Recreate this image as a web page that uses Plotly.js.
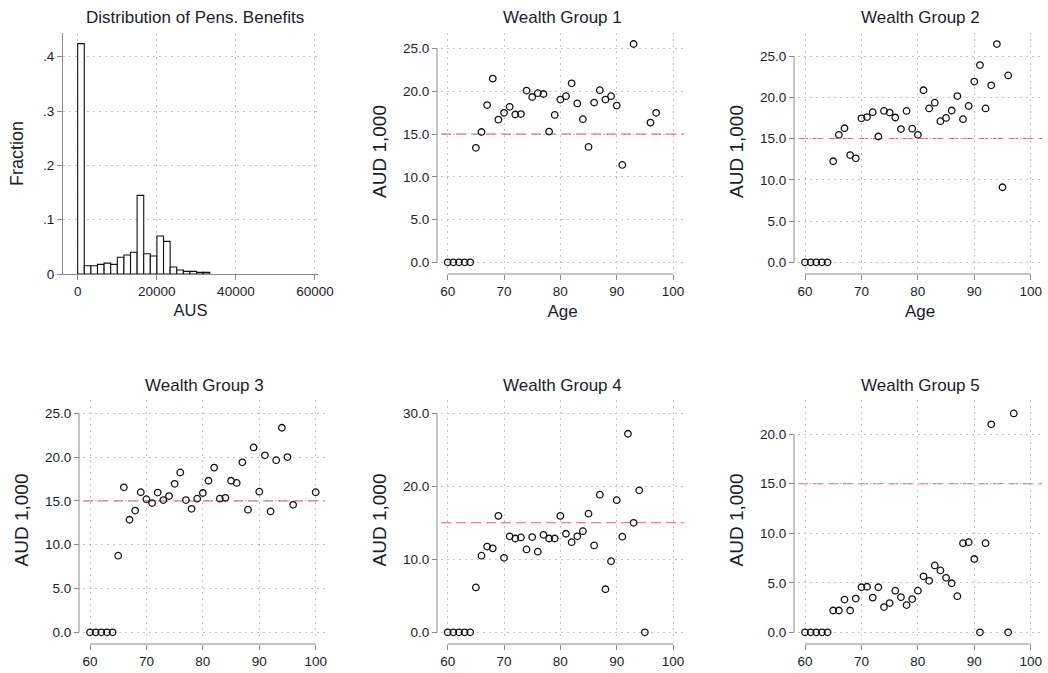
<!DOCTYPE html>
<html>
<head>
<meta charset="utf-8">
<script src="https://cdn.plot.ly/plotly-3.0.1.min.js"></script>
<style>html,body{margin:0;padding:0;background:#fff;}#chart{width:1048px;height:673px;}</style>
</head>
<body>
<div id="chart"></div>
<script>
// ---------- DATA ----------
const histBinLeft = [0,1670,3340,5010,6680,8350,10020,11690,13360,15030,16700,18370,20040,21710,23380,25050,26720,28390,30060,31730];
const histBinWidth = 1670;
const histFraction = [0.424,0.0153,0.0153,0.0178,0.020,0.0178,0.0307,0.035,0.040,0.1448,0.0374,0.0331,0.070,0.060,0.0129,0.0074,0.0049,0.0049,0.003,0.003];
const histXTicks = [0,20000,40000,60000];
const histXTickText = ['0','20000','40000','60000'];
const histYTicks = [0,0.1,0.2,0.3,0.4];
const histYTickText = ['0','.1','.2','.3','.4'];

const ageTicks = [60,70,80,90,100];

const wg1Age = [60,61,62,63,64,65,66,67,68,69,70,71,72,73,74,75,76,77,78,79,80,81,82,83,84,85,86,87,88,89,90,91,93,96,97];
const wg1Val = [0,0,0,0,0,13.4,15.25,18.4,21.5,16.7,17.5,18.2,17.3,17.35,20.1,19.35,19.8,19.7,15.3,17.25,19.05,19.45,20.95,18.6,16.75,13.5,18.7,20.15,19.05,19.45,18.35,11.4,25.55,16.35,17.5];

const wg2Age = [60,61,62,63,64,65,66,67,68,69,70,71,72,73,74,75,76,77,78,79,80,81,82,83,84,85,86,87,88,89,90,91,92,93,94,95,96];
const wg2Val = [0,0,0,0,0,12.25,15.45,16.25,13.0,12.6,17.45,17.6,18.2,15.25,18.35,18.15,17.55,16.15,18.35,16.2,15.45,20.85,18.65,19.35,17.1,17.5,18.4,20.15,17.35,18.95,21.9,23.9,18.65,21.45,26.45,9.1,22.65];

const wg3Age = [60,61,62,63,64,65,66,67,68,69,70,71,72,73,74,75,76,77,78,79,80,81,82,83,84,85,86,87,88,89,90,91,92,93,94,95,96,100];
const wg3Val = [0,0,0,0,0,8.75,16.55,12.85,13.9,16.0,15.2,14.75,15.95,15.1,15.55,16.95,18.25,15.1,14.1,15.25,15.9,17.3,18.8,15.25,15.35,17.3,17.05,19.4,14.0,21.1,16.05,20.2,13.8,19.65,23.35,20.0,14.55,16.0];

const wg4Age = [60,61,62,63,64,65,66,67,68,69,70,71,72,73,74,75,76,77,78,79,80,81,82,83,84,85,86,87,88,89,90,91,92,93,94,95];
const wg4Val = [0,0,0,0,0,6.15,10.5,11.75,11.5,15.95,10.2,13.15,12.85,13.0,11.35,13.05,11.05,13.35,12.85,12.85,15.95,13.5,12.35,13.15,13.85,16.25,11.9,18.85,5.9,9.75,18.1,13.1,27.2,15.0,19.45,0];

const wg5Age = [60,61,62,63,64,65,66,67,68,69,70,71,72,73,74,75,76,77,78,79,80,81,82,83,84,85,86,87,88,89,90,91,92,93,96,97];
const wg5Val = [0,0,0,0,0,2.2,2.2,3.3,2.2,3.4,4.55,4.6,3.5,4.55,2.55,2.95,4.2,3.55,2.75,3.35,4.2,5.65,5.2,6.75,6.25,5.5,4.95,3.65,9.0,9.1,7.4,0,9.0,21.0,0,22.1];

const groupTitles = ['Wealth Group 1','Wealth Group 2','Wealth Group 3','Wealth Group 4','Wealth Group 5'];
const groupAges = [wg1Age,wg2Age,wg3Age,wg4Age,wg5Age];
const groupVals = [wg1Val,wg2Val,wg3Val,wg4Val,wg5Val];
const groupYTicks = [[0,5,10,15,20,25],[0,5,10,15,20,25],[0,5,10,15,20,25],[0,10,20,30],[0,5,10,15,20]];
const referenceLevel = 15;

// ---------- LAYOUT GEOMETRY (pixels) ----------
const W = 1048, H = 673;
const px = v => v / W;
const py = v => 1 - v / H;

// panel boxes: [left, right, top, bottom], axis line positions
const panels = [
  {box:[441,684,33,270], xline:274, yline:437, xr:[58.81,101.95], yr:[-0.90,26.84], ytitleX:378},
  {box:[798,1042,33,270], xline:274, yline:794, xr:[58.76,102.0], yr:[-0.93,27.79], ytitleX:735},
  {box:[83,325,400,640], xline:644, yline:79, xr:[58.76,101.65], yr:[-0.88,26.52], ytitleX:20},
  {box:[441,684,400,640], xline:644, yline:437, xr:[58.81,101.95], yr:[-1.05,31.82], ytitleX:378},
  {box:[798,1042,400,640], xline:644, yline:794, xr:[58.76,102.0], yr:[-0.78,23.46], ytitleX:735}
];

const FONT = '"Liberation Sans", Arial, sans-serif';
const TXT = '#1c1c2a';
const AXC = '#8a8a8a';
const GRID = '#c4c4c4';
const tickFont = {family: FONT, size: 13.5, color: TXT};

const data = [];
const layout = {
  width: W, height: H,
  margin: {l:0, r:0, t:0, b:0, pad:0},
  paper_bgcolor: '#ffffff', plot_bgcolor: '#ffffff',
  showlegend: false,
  annotations: [], shapes: []
};

// ---------- HISTOGRAM ----------
data.push({
  type: 'bar', x: histBinLeft, y: histFraction, width: histBinWidth, offset: 0,
  marker: {color: '#ffffff', line: {color: '#111111', width: 1.1}},
  xaxis: 'x', yaxis: 'y', hoverinfo: 'skip'
});
layout.xaxis = {
  domain: [px(63), px(318)], range: [-3710, 60760], anchor: 'y',
  tickmode: 'array', tickvals: histXTicks, ticktext: histXTickText,
  ticks: 'outside', ticklen: 5, tickcolor: AXC, tickfont: tickFont,
  showline: true, linecolor: AXC, linewidth: 1,
  showgrid: true, gridcolor: GRID, griddash: '2px,4px', gridwidth: 1,
  zeroline: false, automargin: false,
  title: {text: 'AUS', font: {family: FONT, size: 16.5, color: TXT}, standoff: 6}
};
layout.yaxis = {
  domain: [py(274), py(33)], range: [0, 0.4436], anchor: 'x',
  tickmode: 'array', tickvals: histYTicks, ticktext: histYTickText,
  ticks: 'outside', ticklen: 5, tickcolor: AXC, tickfont: tickFont,
  showline: true, linecolor: AXC, linewidth: 1,
  showgrid: true, gridcolor: GRID, griddash: '2px,4px', gridwidth: 1,
  zeroline: false, automargin: false,
  title: {text: 'Fraction', font: {family: FONT, size: 18, color: TXT}, standoff: 14}
};
layout.annotations.push({
  text: 'Distribution of Pens. Benefits', xref: 'paper', yref: 'paper',
  x: px(195), y: py(17), xanchor: 'center', yanchor: 'middle', showarrow: false,
  font: {family: FONT, size: 17, color: TXT}
});

// ---------- SCATTER PANELS ----------
panels.forEach((p, i) => {
  const n = i + 2;
  const xa = 'xaxis' + n, ya = 'yaxis' + n;
  const xs = 'x' + n, ys = 'y' + n;
  const [l, r, t, b] = p.box;
  const yt = groupYTicks[i];
  const topRow = t < 100;
  data.push({
    type: 'scatter', mode: 'markers', x: groupAges[i], y: groupVals[i],
    xaxis: xs, yaxis: ys, hoverinfo: 'skip',
    marker: {symbol: 'circle-open', size: 6.5, color: '#111111', line: {width: 1.3, color: '#111111'}}
  });
  layout[xa] = {
    domain: [px(l), px(r)], range: p.xr, anchor: 'free', position: py(p.xline),
    tickmode: 'array', tickvals: ageTicks,
    ticks: 'outside', ticklen: 5, tickcolor: AXC, tickfont: tickFont,
    showline: false,
    showgrid: true, gridcolor: GRID, griddash: '2px,4px', gridwidth: 1,
    zeroline: false, automargin: false,
    title: topRow ? {text: 'Age', font: {family: FONT, size: 17, color: TXT}, standoff: 6} : {text: ''}
  };
  layout[ya] = {
    domain: [py(b), py(t)], range: p.yr, anchor: 'free', position: px(p.yline),
    tickmode: 'array', tickvals: yt, tickformat: '.1f',
    ticks: 'outside', ticklen: 5, tickcolor: AXC, tickfont: tickFont,
    showline: false,
    showgrid: true, gridcolor: GRID, griddash: '2px,4px', gridwidth: 1,
    zeroline: false, automargin: false,
    title: {text: 'AUD 1,000', font: {family: FONT, size: 19, color: TXT}, standoff: 10}
  };
  // Stata-style axis lines spanning first to last tick
  layout.shapes.push({
    type: 'line', xref: xs, yref: 'paper',
    x0: ageTicks[0], x1: ageTicks[ageTicks.length - 1], y0: py(p.xline), y1: py(p.xline),
    line: {color: AXC, width: 1}
  });
  layout.shapes.push({
    type: 'line', xref: 'paper', yref: ys,
    x0: px(p.yline), x1: px(p.yline), y0: yt[0], y1: yt[yt.length - 1],
    line: {color: AXC, width: 1}
  });
  // reference line
  layout.shapes.push({
    type: 'line', xref: xs + ' domain', yref: ys,
    x0: 0, x1: 1, y0: referenceLevel, y1: referenceLevel, layer: 'below',
    line: {color: '#d9607f', width: 1.1, dash: '10px,5px'}
  });
  layout.annotations.push({
    text: groupTitles[i], xref: 'paper', yref: 'paper',
    x: px((l + r) / 2), y: py(topRow ? 17 : 385), xanchor: 'center', yanchor: 'middle', showarrow: false,
    font: {family: FONT, size: 17, color: TXT}
  });
});

Plotly.newPlot('chart', data, layout, {staticPlot: true, displayModeBar: false});
</script>
</body>
</html>
